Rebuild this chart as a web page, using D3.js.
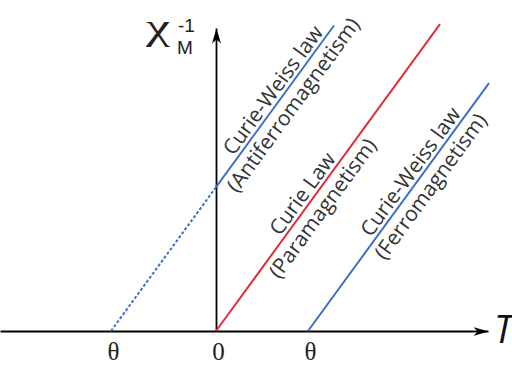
<!DOCTYPE html>
<html>
<head>
<meta charset="utf-8">
<script src="https://cdn.jsdelivr.net/npm/d3@7"></script>
<style>
  html, body { margin: 0; padding: 0; background: #fff; }
  svg { display: block; }
</style>
</head>
<body>
<svg id="chart" width="512" height="365"></svg>
<script>
// Inverse susceptibility vs temperature (schematic)
const series = ["Antiferromagnetism", "Paramagnetism", "Ferromagnetism"];
const lawNames = ["Curie-Weiss law", "Curie Law", "Curie-Weiss law"];
const kindNames = ["(Antiferromagnetism)", "(Paramagnetism)", "(Ferromagnetism)"];
const thetaT = [-1.05, 0, 0.92];   // T where 1/chi = 0
const endT = [1.18, 2.24, 2.73];   // last T drawn
const dashedToT = [0, null, null]; // extrapolated part (dashed)
const curieC = 0.73;
const tickT = [-1.05, 0, 0.92];
const tickLabels = ["θ", "0", "θ"];

const svg = d3.select("#chart");

const x = d3.scaleLinear().domain([-2.16, 2.72]).range([0, 488]);
const y = d3.scaleLinear().domain([0, 3.03]).range([331, 28]);

const chi = (t, th) => (t - th) / curieC;

// arrow head
svg.append("defs").append("marker")
    .attr("id", "arrow")
    .attr("markerUnits", "userSpaceOnUse")
    .attr("viewBox", "0 -5 16 10")
    .attr("refX", 15).attr("refY", 0)
    .attr("markerWidth", 16).attr("markerHeight", 10)
    .attr("orient", "auto")
  .append("path")
    .attr("d", "M0,-4.5L15,0L0,4.5L4,0Z")
    .attr("fill", "#000");

// axes
const xAxis = svg.append("g")
    .attr("transform", `translate(0,${y(0)})`)
    .call(d3.axisBottom(x).tickValues(tickT).tickFormat((d, i) => tickLabels[i]).tickSize(0).tickSizeOuter(0));
xAxis.select(".domain").attr("stroke", "#000").attr("stroke-width", 1.8).attr("marker-end", "url(#arrow)");
xAxis.selectAll(".tick text")
    .attr("y", 29).attr("dy", 0).attr("dx", 2)
    .style("font-family", "'Liberation Serif', serif")
    .style("font-size", "25px")
    .attr("fill", "#222");

const yAxis = svg.append("g")
    .attr("transform", `translate(${x(0)},0)`)
    .call(d3.axisLeft(y).tickValues([]).tickSizeOuter(0));
yAxis.select(".domain").attr("stroke", "#000").attr("stroke-width", 1.8).attr("marker-end", "url(#arrow)");

// lines
const colors = ["#3f6fc6", "#dc2f3b", "#3f6fc6"];
const line = d3.line().x(d => x(d[0])).y(d => y(d[1]));

series.forEach((s, i) => {
    const th = thetaT[i];
    const solidFrom = dashedToT[i] !== null ? dashedToT[i] : th;
    if (dashedToT[i] !== null) {
        svg.append("path")
            .datum([[th, 0], [dashedToT[i], chi(dashedToT[i], th)]])
            .attr("d", line)
            .attr("fill", "none")
            .attr("stroke", colors[i])
            .attr("stroke-width", 2)
            .attr("stroke-dasharray", "3,2");
    }
    svg.append("path")
        .datum([[solidFrom, chi(solidFrom, th)], [endT[i], chi(endT[i], th)]])
        .attr("d", line)
        .attr("fill", "none")
        .attr("stroke", colors[i])
        .attr("stroke-width", 2);
});

// labels along each line
const labelT = [0.66, 0.955, 2.035];
const angle = Math.atan2(y(chi(1, 0)) - y(0), x(1) - x(0)) * 180 / Math.PI;

series.forEach((s, i) => {
    const t = labelT[i];
    const g = svg.append("g")
        .attr("transform", `translate(${x(t)},${y(chi(t, thetaT[i]))}) rotate(${angle})`)
        .style("font-family", "'Open Sans', sans-serif")
        .style("font-size", "21px")
        .attr("fill", "#333")
        .attr("text-anchor", "middle");
    g.append("text").attr("y", -4).text(lawNames[i]);
    g.append("text").attr("y", 21).text(kindNames[i]);
});

// axis title: chi, superscript -1, subscript M
const yTitle = svg.append("g").attr("fill", "#222");
yTitle.append("text")
    .attr("transform", "translate(146,39) scale(1.5,1)")
    .style("font-family", "'Liberation Serif', serif")
    .style("font-size", "36px")
    .text("χ");
yTitle.append("text")
    .attr("x", 178).attr("y", 32)
    .style("font-family", "'Liberation Sans', sans-serif")
    .style("font-size", "19px")
    .text("-1");
yTitle.append("text")
    .attr("x", 177).attr("y", 53.5)
    .style("font-family", "'Liberation Sans', sans-serif")
    .style("font-size", "19px")
    .text("M");

svg.append("text")
    .attr("x", 494).attr("y", 343)
    .style("font-family", "'Open Sans', sans-serif")
    .style("font-size", "38px")
    .style("font-style", "italic")
    .attr("fill", "#111")
    .text("T");
</script>
</body>
</html>
